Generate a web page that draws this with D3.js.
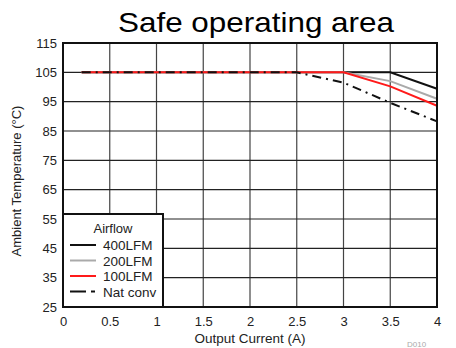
<!DOCTYPE html>
<html>
<head>
<script src="https://d3js.org/d3.v7.min.js"></script>
<style>
  body { margin: 0; background: #fff; }
  text { font-family: "Liberation Sans", Arial, sans-serif; }
</style>
</head>
<body>
<div id="chart"></div>
<script>
// data
var xTicks = [0, 0.5, 1, 1.5, 2, 2.5, 3, 3.5, 4];
var yTicks = [25, 35, 45, 55, 65, 75, 85, 95, 105, 115];

var lfm400 = [[0.2, 105], [3.5, 105], [4, 99.4]];
var lfm200 = [[0.2, 105], [3, 105], [3.5, 102], [4, 96]];
var lfm100 = [[0.2, 105], [3, 105], [3.5, 100.2], [4, 93.6]];
var natConv = [[0.2, 105], [2.5, 105], [3, 101.5], [3.5, 94.6], [4, 88.3]];

var seriesNames = ["400LFM", "200LFM", "100LFM", "Nat conv"];
var seriesData = [lfm400, lfm200, lfm100, natConv];
var seriesColor = ["#111", "#aaa", "#ff1a1a", "#111"];
var seriesDash = [null, null, null, "9,5,2,5"];

var W = 456, H = 348;
var margin = { top: 43, right: 19, bottom: 41, left: 63 };
var width = W - margin.left - margin.right,
    height = H - margin.top - margin.bottom;

var svg = d3.select("#chart").append("svg")
    .attr("width", W).attr("height", H);

svg.append("text")
    .attr("x", 256).attr("y", 32)
    .attr("text-anchor", "middle")
    .style("font-size", "28px")
    .attr("textLength", 276).attr("lengthAdjust", "spacingAndGlyphs")
    .attr("fill", "#000")
    .text("Safe operating area");

var g = svg.append("g")
    .attr("transform", "translate(" + margin.left + "," + margin.top + ")");

var x = d3.scaleLinear().domain([0, 4]).range([0, width]);
var y = d3.scaleLinear().domain([25, 115]).range([height, 0]);

// grid
g.selectAll(".vgrid").data(xTicks.slice(1, -1)).enter().append("line")
    .attr("x1", d => x(d)).attr("x2", d => x(d))
    .attr("y1", 0).attr("y2", height)
    .attr("stroke", "#444").attr("stroke-width", 1.2);
g.selectAll(".hgrid").data(yTicks.slice(1, -1)).enter().append("line")
    .attr("y1", d => y(d)).attr("y2", d => y(d))
    .attr("x1", 0).attr("x2", width)
    .attr("stroke", "#222").attr("stroke-width", 1.2);

// tick labels
var xAxis = g.append("g")
    .attr("transform", "translate(0," + height + ")")
    .call(d3.axisBottom(x).tickValues(xTicks).tickSize(0).tickPadding(10).tickFormat(d3.format("")));
var yAxis = g.append("g")
    .call(d3.axisLeft(y).tickValues(yTicks).tickSize(0).tickPadding(6));
[xAxis, yAxis].forEach(function (a) {
    a.select(".domain").remove();
    a.selectAll("text").style("font-size", "13px").attr("fill", "#222")
        .style("font-family", "'Liberation Sans', Arial, sans-serif");
});

// lines
var line = d3.line().x(d => x(d[0])).y(d => y(d[1]));
seriesData.forEach(function (s, i) {
    g.append("path")
        .datum(s)
        .attr("fill", "none")
        .attr("stroke", seriesColor[i])
        .attr("stroke-width", 2)
        .attr("stroke-dasharray", seriesDash[i])
        .attr("d", line);
});

// frame
g.append("rect")
    .attr("width", width).attr("height", height)
    .attr("fill", "none").attr("stroke", "#111").attr("stroke-width", 2);

// legend
var leg = g.append("g");
leg.append("rect")
    .attr("x", 0).attr("y", 171)
    .attr("width", 100).attr("height", height - 171)
    .attr("fill", "#fff").attr("stroke", "#111").attr("stroke-width", 2);
leg.append("text")
    .attr("x", 50).attr("y", 190)
    .attr("text-anchor", "middle")
    .style("font-size", "13px").attr("fill", "#222")
    .text("Airflow");
seriesNames.forEach(function (n, i) {
    var yy = 202 + i * 15.5;
    leg.append("line")
        .attr("x1", 7).attr("x2", 33).attr("y1", yy).attr("y2", yy)
        .attr("stroke", seriesColor[i]).attr("stroke-width", 2)
        .attr("stroke-dasharray", i === 3 ? "16,5,4,5" : null);
    leg.append("text")
        .attr("x", 40).attr("y", yy + 5)
        .style("font-size", "13.5px").attr("fill", "#222")
        .text(n);
});

// axis titles
svg.append("text")
    .attr("x", 250).attr("y", 343)
    .attr("text-anchor", "middle")
    .style("font-size", "13.5px").attr("fill", "#222")
    .text("Output Current (A)");
svg.append("text")
    .attr("transform", "translate(21,181) rotate(-90)")
    .attr("text-anchor", "middle")
    .style("font-size", "13px").attr("fill", "#222")
    .text("Ambient Temperature (°C)");
svg.append("text")
    .attr("x", 407).attr("y", 347)
    .style("font-size", "8px").attr("fill", "#aaa")
    .text("D010");
</script>
</body>
</html>
